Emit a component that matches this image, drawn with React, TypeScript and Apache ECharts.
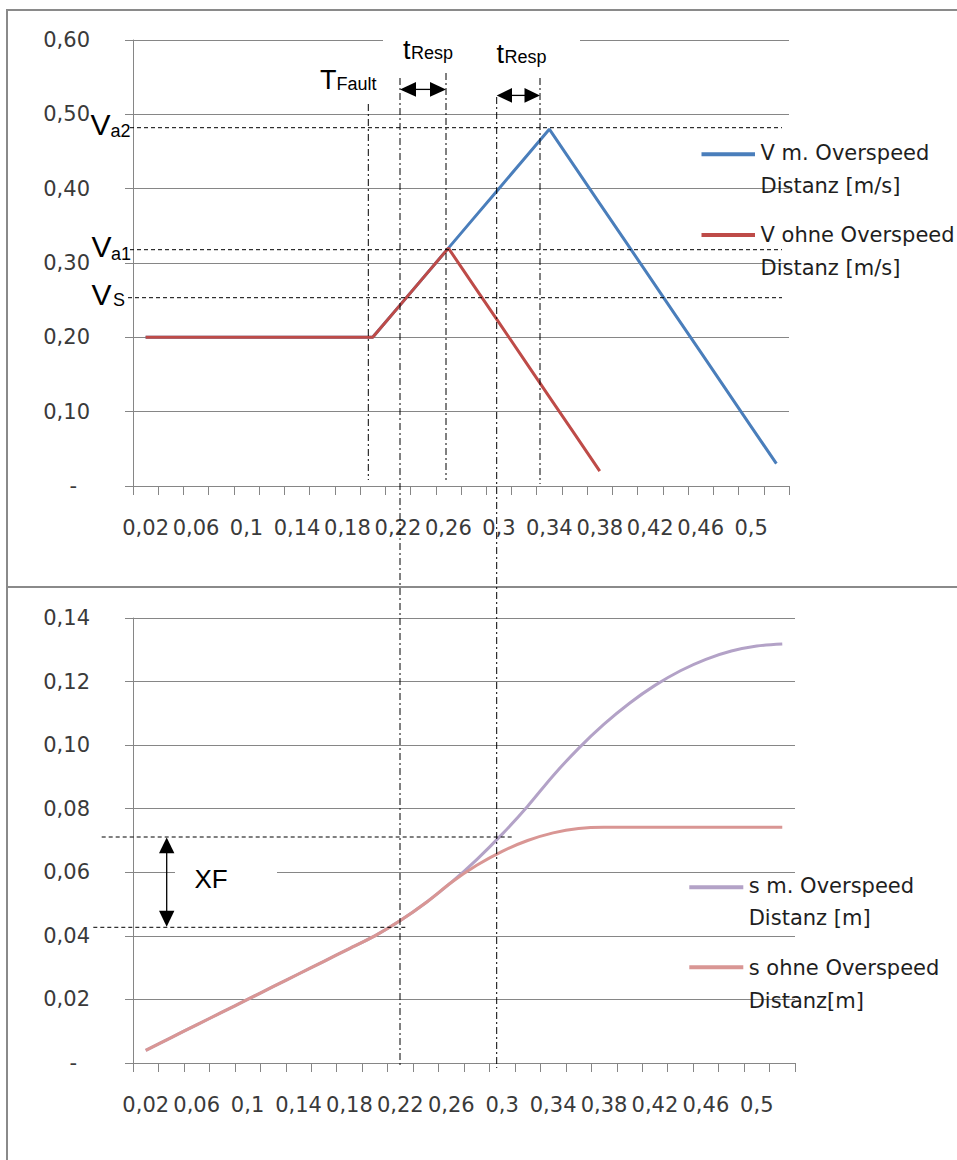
import React, { useEffect, useRef } from 'react';
import * as echarts from 'echarts';

// ---- data ----
const categories = ['0,02', '0,04', '0,06', '0,08', '0,1', '0,12', '0,14', '0,16', '0,18', '0,2', '0,22', '0,24', '0,26', '0,28', '0,3', '0,32', '0,34', '0,36', '0,38', '0,4', '0,42', '0,44', '0,46', '0,48', '0,5', '0,52'];

const vWithOverspeed = [0.2, 0.2, 0.2, 0.2, 0.2, 0.2, 0.2, 0.2, 0.2, 0.2, 0.24, 0.28, 0.32, 0.36, 0.4, 0.44, 0.48, 0.43, 0.38, 0.33, 0.28, 0.23, 0.18, 0.13, 0.08, 0.03];
const vWithoutOverspeed = [0.2, 0.2, 0.2, 0.2, 0.2, 0.2, 0.2, 0.2, 0.2, 0.2, 0.24, 0.28, 0.32, 0.27, 0.22, 0.17, 0.12, 0.07, 0.02, null, null, null, null, null, null, null];

const sWithOverspeed = [0.004, 0.008, 0.012, 0.016, 0.02, 0.024, 0.028, 0.032, 0.036, 0.04, 0.0448, 0.0504, 0.0568, 0.064, 0.072, 0.0808, 0.0904, 0.099, 0.1066, 0.1132, 0.1188, 0.1234, 0.127, 0.1296, 0.1312, 0.1318];
const sWithoutOverspeed = [0.004, 0.008, 0.012, 0.016, 0.02, 0.024, 0.028, 0.032, 0.036, 0.04, 0.0448, 0.0504, 0.0568, 0.0622, 0.0666, 0.07, 0.0724, 0.0738, 0.0742, 0.0742, 0.0742, 0.0742, 0.0742, 0.0742, 0.0742, 0.0742];

const seriesNames = ['V m. Overspeed Distanz [m/s]', 'V ohne Overspeed Distanz [m/s]', 's m. Overspeed Distanz [m]', 's ohne Overspeed Distanz[m]'];
const legendLines = [
  'V m. Overspeed\nDistanz [m/s]',
  'V ohne Overspeed\nDistanz [m/s]',
  's m. Overspeed\nDistanz [m]',
  's ohne Overspeed\nDistanz[m]',
];
const colors = ['#4a7ebb', '#be4b48', '#b3a2c7', '#d99694'];

const GRAY = '#868686';
const LABEL_FONT = 'DejaVu Sans';
const ANN_FONT = 'Liberation Sans';

const fmtY = (v: number) => (v === 0 ? '{z|-}' : v.toFixed(2).replace('.', ','));

function yAxisCfg(gridIndex: number, max: number, interval: number) {
  return {
    type: 'value',
    gridIndex,
    min: 0,
    max,
    interval,
    axisLine: { show: true, lineStyle: { color: GRAY, width: 1 } },
    axisTick: { show: true, length: 8, lineStyle: { color: GRAY } },
    splitLine: { show: true, lineStyle: { color: GRAY, width: 1 } },
    axisLabel: {
      margin: 43,
      fontFamily: LABEL_FONT,
      fontSize: 21,
      color: '#3a3a3a',
      formatter: fmtY,
      rich: { z: { padding: [0, 13, 0, 0], fontFamily: LABEL_FONT, fontSize: 21, color: '#3a3a3a' } },
    },
  };
}

function xAxisCfg(gridIndex: number) {
  return {
    type: 'category',
    gridIndex,
    data: categories,
    boundaryGap: true,
    axisLine: { show: true, lineStyle: { color: GRAY, width: 1 } },
    axisTick: { show: true, interval: 0, length: 9, lineStyle: { color: GRAY } },
    splitLine: { show: false },
    axisLabel: {
      interval: 1,
      margin: 31,
      fontFamily: LABEL_FONT,
      fontSize: 21,
      color: '#3a3a3a',
      hideOverlap: false,
    },
  };
}

const dashed = (x1: number, y1: number, x2: number, y2: number) => ({
  type: 'line',
  z: 5,
  silent: true,
  shape: { x1, y1, x2, y2 },
  style: { stroke: '#000', lineWidth: 1, lineDash: [4, 3] },
});
const dashDot = (x: number, y1: number, y2: number) => ({
  type: 'line',
  z: 5,
  silent: true,
  shape: { x1: x, y1, x2: x, y2 },
  style: { stroke: '#000', lineWidth: 1, lineDash: [7, 3, 2, 3] },
});
const tri = (pts: number[][]) => ({
  type: 'polygon',
  z: 6,
  silent: true,
  shape: { points: pts },
  style: { fill: '#000' },
});
const solid = (x1: number, y1: number, x2: number, y2: number) => ({
  type: 'line',
  z: 6,
  silent: true,
  shape: { x1, y1, x2, y2 },
  style: { stroke: '#000', lineWidth: 1.3 },
});
const annText = (text: string, x: number, y: number, size: number) => ({
  type: 'text',
  z: 10,
  silent: true,
  x,
  y,
  style: { text, fontFamily: ANN_FONT, fontSize: size, fill: '#000', align: 'left', verticalAlign: 'middle' },
});
const legendItem = (i: number, lx1: number, lx2: number, ly: number, tx: number, ty: number, lh: number) => [
  {
    type: 'line',
    z: 10,
    silent: true,
    shape: { x1: lx1, y1: ly, x2: lx2, y2: ly },
    style: { stroke: colors[i], lineWidth: 4 },
  },
  {
    type: 'text',
    z: 10,
    silent: true,
    x: tx,
    y: ty,
    style: {
      text: legendLines[i],
      fontFamily: LABEL_FONT,
      fontSize: 21,
      lineHeight: lh,
      fill: '#1e1e1e',
      align: 'left',
      verticalAlign: 'top',
    },
  },
];

export default function App() {
  const ref = useRef<HTMLDivElement>(null);

  useEffect(() => {
    if (!ref.current) return;
    const chart = echarts.init(ref.current, undefined, { renderer: 'svg' });

    const graphic: any[] = [
      // chart frames
      { type: 'rect', z: 0, silent: true, shape: { x: 7, y: 10, width: 1000, height: 577 }, style: { fill: 'none', stroke: '#8a8a8a', lineWidth: 2 } },
      { type: 'rect', z: 0, silent: true, shape: { x: 7, y: 587, width: 1000, height: 700 }, style: { fill: 'none', stroke: '#8a8a8a', lineWidth: 2 } },
      // white text boxes hiding gridlines
      { type: 'rect', z: 1, silent: true, shape: { x: 383, y: 32, width: 197, height: 16 }, style: { fill: '#fff' } },
      { type: 'rect', z: 1, silent: true, shape: { x: 175, y: 855, width: 102, height: 55 }, style: { fill: '#fff' } },
      // top chart: horizontal dashed reference lines
      dashed(130, 127.7, 782, 127.7),
      dashed(130, 249.7, 782, 249.7),
      dashed(128, 297.7, 782, 297.7),
      // vertical dash-dot lines
      dashDot(368.3, 104, 480),
      dashDot(400, 78, 1068),
      dashDot(446, 73, 480),
      dashDot(496.7, 97, 1068),
      dashDot(540, 78, 484),
      // tResp arrows
      solid(414, 89.4, 432, 89.4),
      tri([[400, 89.4], [416, 82], [416, 96.8]]),
      tri([[446, 89.4], [430, 82], [430, 96.8]]),
      solid(511, 95.4, 526, 95.4),
      tri([[496.7, 95.4], [512, 88], [512, 102.8]]),
      tri([[540, 95.4], [524.5, 88], [524.5, 102.8]]),
      // annotation texts (top)
      annText('T', 320, 79.6, 27),
      annText('Fault', 336.5, 83.6, 18),
      annText('t', 403, 49.6, 27),
      annText('Resp', 411, 52.9, 18),
      annText('t', 496.5, 53.6, 27),
      annText('Resp', 504.5, 56.9, 18),
      annText('V', 90.5, 124.3, 30),
      annText('a2', 110.5, 131.3, 18),
      annText('V', 91.5, 246.6, 30),
      annText('a1', 111, 254.3, 18),
      annText('V', 91.5, 294.3, 30),
      annText('S', 113, 300.3, 18),
      // bottom chart: XF
      dashed(101.7, 837, 513, 837),
      dashed(93.3, 927.3, 407, 927.3),
      solid(166.7, 850, 166.7, 914),
      tri([[166.7, 837.5], [159, 853.3], [174.4, 853.3]]),
      tri([[166.7, 926.8], [159, 910.8], [174.4, 910.8]]),
      annText('XF', 194.5, 879, 26),
      // legends
      ...legendItem(0, 701.5, 755, 154.3, 760.5, 136.2, 33),
      ...legendItem(1, 701.5, 755, 235, 760.5, 218.5, 33),
      ...legendItem(2, 689.3, 743.3, 887.3, 748.7, 869.3, 32.5),
      ...legendItem(3, 689.3, 743.3, 967.3, 748.7, 951.8, 32.5),
    ];

    chart.setOption({
      animation: false,
      backgroundColor: '#fff',
      grid: [
        { left: 133, top: 40, width: 656, height: 446, containLabel: false },
        { left: 133, top: 618, width: 662, height: 445, containLabel: false },
      ],
      xAxis: [xAxisCfg(0), xAxisCfg(1)],
      yAxis: [yAxisCfg(0, 0.6, 0.1), yAxisCfg(1, 0.14, 0.02)],
      series: [
        {
          name: seriesNames[0],
          type: 'line',
          xAxisIndex: 0,
          yAxisIndex: 0,
          data: vWithOverspeed,
          symbol: 'none',
          lineStyle: { color: colors[0], width: 3 },
          itemStyle: { color: colors[0] },
          z: 2,
        },
        {
          name: seriesNames[1],
          type: 'line',
          xAxisIndex: 0,
          yAxisIndex: 0,
          data: vWithoutOverspeed,
          symbol: 'none',
          lineStyle: { color: colors[1], width: 3 },
          itemStyle: { color: colors[1] },
          z: 3,
        },
        {
          name: seriesNames[2],
          type: 'line',
          xAxisIndex: 1,
          yAxisIndex: 1,
          data: sWithOverspeed,
          symbol: 'none',
          smooth: 0.3,
          lineStyle: { color: colors[2], width: 3 },
          itemStyle: { color: colors[2] },
          z: 2,
        },
        {
          name: seriesNames[3],
          type: 'line',
          xAxisIndex: 1,
          yAxisIndex: 1,
          data: sWithoutOverspeed,
          symbol: 'none',
          smooth: 0.3,
          lineStyle: { color: colors[3], width: 3 },
          itemStyle: { color: colors[3] },
          z: 3,
        },
      ],
      graphic,
    });

    return () => {
      chart.dispose();
    };
  }, []);

  return (
    <div
      ref={ref}
      style={{ position: 'absolute', left: 0, top: 0, width: 957, height: 1160, background: '#fff' }}
    />
  );
}
